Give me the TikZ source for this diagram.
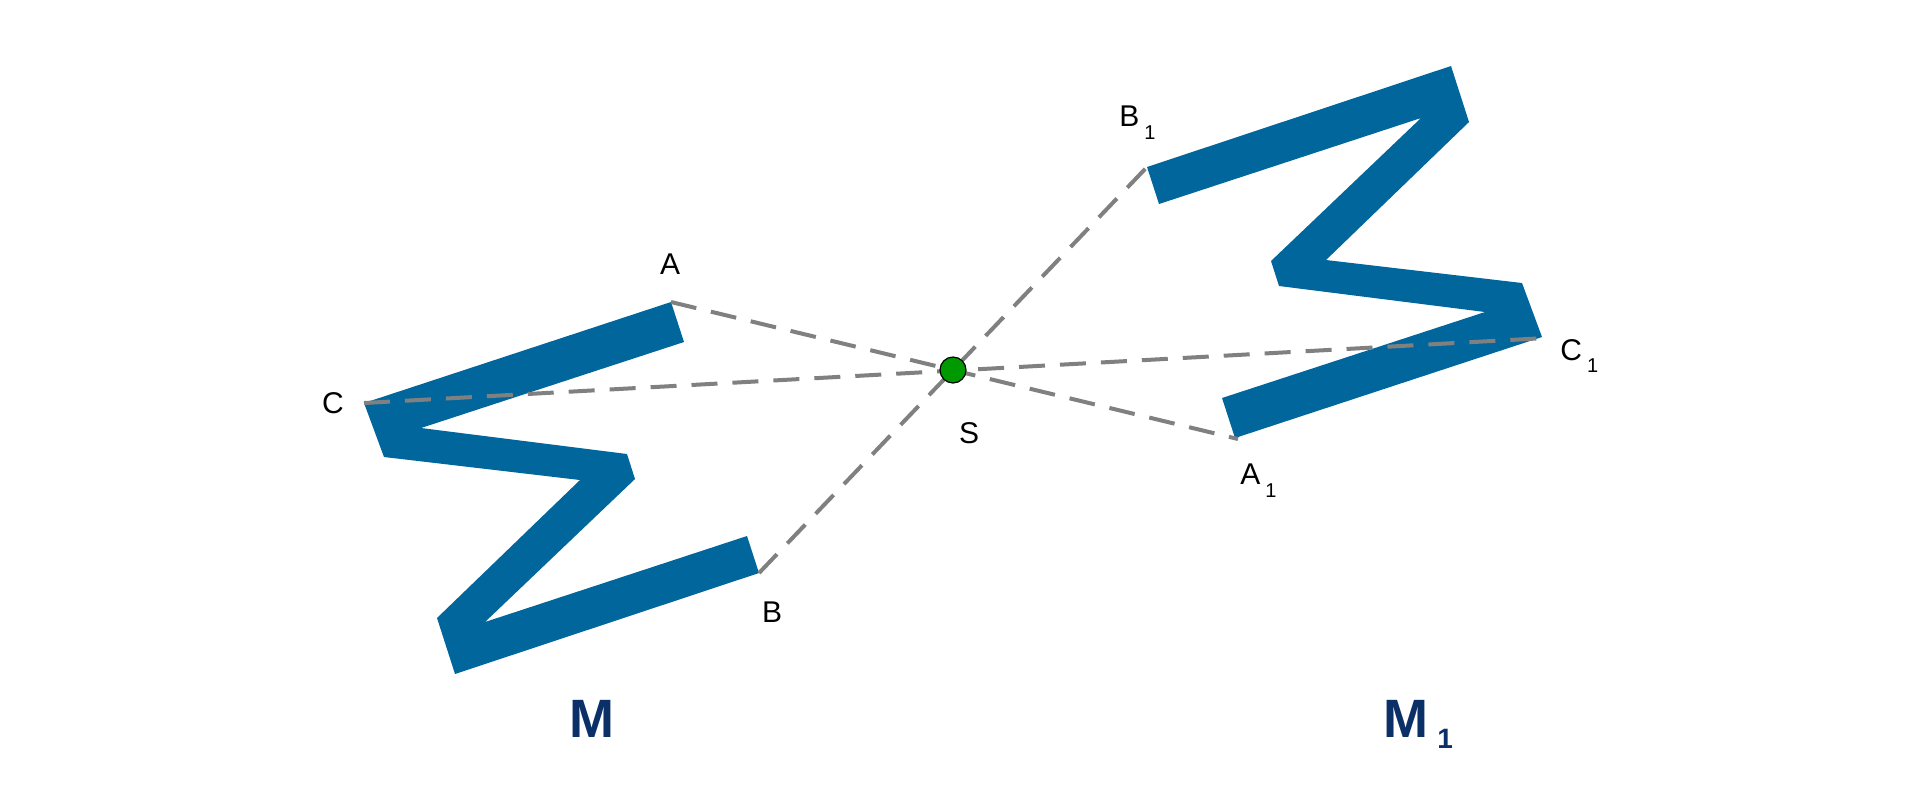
\documentclass[tikz,border=0pt]{standalone}
\usepackage{fontspec}
\setmainfont{Liberation Sans}
\definecolor{zblue}{HTML}{00669B}
\definecolor{navy}{HTML}{0B3068}
\definecolor{sgreen}{HTML}{009900}
\begin{document}
\begin{tikzpicture}[x=0.5pt,y=-0.5pt,
  zshape/.style={fill=zblue,draw=none},
  gdash/.style={draw=gray,line width=2pt,dash pattern=on 13pt off 7.5pt},
  lab/.style={font=\fontsize{15}{17}\selectfont,inner sep=0pt},
  big/.style={font=\fontsize{27}{30}\selectfont\bfseries,text=navy,inner sep=0pt}]
\useasboundingbox (0,0) rectangle (1920,800);
\coordinate (S) at (953,370);
\fill[zshape] (671,302)--(364,403)--(384,457)--(580,480)--(437,618)--(455,674)--(759,573)--(747,536)--(485,622)--(635,479)--(627,454)--(421,428)--(684,342)--cycle;
\begin{scope}[shift={(1906,740)},xscale=-1,yscale=-1]
\fill[zshape] (671,302)--(364,403)--(384,457)--(580,480)--(437,618)--(455,674)--(759,573)--(747,536)--(485,622)--(635,479)--(627,454)--(421,428)--(684,342)--cycle;
\end{scope}
\coordinate (A) at (671,302);
\coordinate (B) at (759,573);
\coordinate (C) at (364,403);
\coordinate (A1) at (1238,439);
\coordinate (B1) at (1147,167);
\coordinate (C1) at (1546,338);
\draw[gdash] (A) -- (A1);
\draw[gdash] (B) -- (B1);
\draw[gdash] (C) -- (C1);
\node[circle,fill=sgreen,draw=black,line width=0.6pt,minimum size=13pt,inner sep=0pt] (s) at (S) {};
\node[lab] (la) at (670,264) {A};
\node[lab] (lc) at (333,403) {C};
\node[lab] (lb) at (772,612) {B};
\node[lab] (ls) at (969,433) {S};
\node[lab,anchor=west] (la1) at (1240,481) {A\,\raisebox{-0.8ex}{\fontsize{10}{11}\selectfont 1}};
\node[lab,anchor=west] (lb1) at (1119,123) {B\,\raisebox{-0.8ex}{\fontsize{10}{11}\selectfont 1}};
\node[lab,anchor=west] (lc1) at (1560,356) {C\,\raisebox{-0.8ex}{\fontsize{10}{11}\selectfont 1}};
\node[big,anchor=base] (m) at (592,737) {M};
\node[big,anchor=base west] (m1) at (1383,737) {M\,\raisebox{-0.4ex}{\fontsize{14}{16}\selectfont 1}};
\end{tikzpicture}
\end{document}
